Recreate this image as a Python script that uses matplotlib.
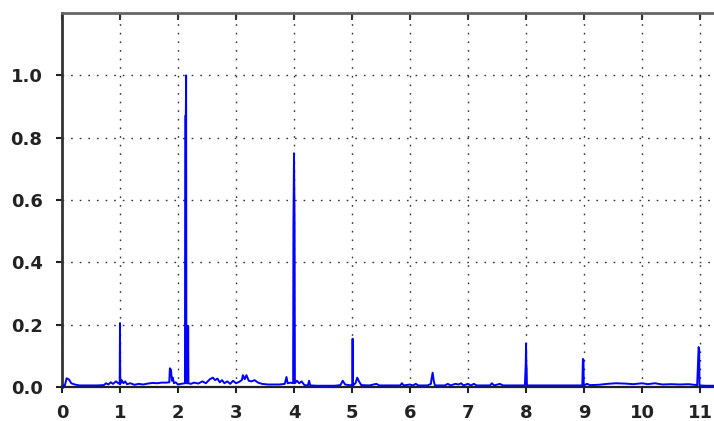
import matplotlib
matplotlib.use("Agg")
import matplotlib.pyplot as plt

# spectrum (normalised amplitude vs. order)
freq = [0.00, 0.05, 0.08, 0.12, 0.16, 0.22, 0.30, 0.45, 0.60, 0.72, 0.76, 0.80,
        0.84, 0.88, 0.93, 0.97, 0.995, 1.00, 1.005, 1.03, 1.06, 1.09, 1.12, 1.18,
        1.25, 1.32, 1.40, 1.48, 1.56, 1.64, 1.72, 1.80, 1.85, 1.86, 1.88, 1.895,
        1.91, 1.93, 1.96, 2.00, 2.05, 2.12, 2.125, 2.135, 2.14, 2.145, 2.17, 2.175,
        2.18, 2.22, 2.28, 2.35, 2.42, 2.48, 2.55, 2.60, 2.64, 2.68, 2.72, 2.76,
        2.80, 2.85, 2.90, 2.95, 3.00, 3.05, 3.10, 3.12, 3.15, 3.18, 3.22, 3.27,
        3.32, 3.38, 3.45, 3.55, 3.65, 3.75, 3.84, 3.87, 3.89, 3.94, 3.985, 3.99,
        4.00, 4.01, 4.015, 4.05, 4.09, 4.13, 4.18, 4.24, 4.26, 4.28, 4.40, 4.55,
        4.70, 4.80, 4.84, 4.88, 4.95, 5.005, 5.01, 5.015, 5.06, 5.09, 5.12, 5.16,
        5.30, 5.42, 5.47, 5.60, 5.83, 5.86, 5.89, 6.00, 6.05, 6.10, 6.14, 6.30,
        6.36, 6.37, 6.39, 6.41, 6.43, 6.60, 6.65, 6.70, 6.78, 6.84, 6.88, 6.92,
        7.00, 7.05, 7.10, 7.15, 7.38, 7.41, 7.45, 7.55, 7.60, 7.98, 7.99, 7.995,
        8.00, 8.005, 8.01, 8.015, 8.50, 8.97, 8.98, 8.99, 8.995, 9.05, 9.10, 9.25,
        9.40, 9.55, 9.70, 9.85, 10.00, 10.10, 10.22, 10.35, 10.50, 10.65, 10.80,
        10.95, 10.975, 10.985, 10.99, 11.10, 11.24]
amp = [0.004, 0.005, 0.028, 0.024, 0.012, 0.008, 0.005, 0.005, 0.005, 0.006, 0.012, 0.008,
       0.015, 0.010, 0.018, 0.012, 0.010, 0.205, 0.010, 0.022, 0.012, 0.018, 0.009, 0.012,
       0.007, 0.010, 0.008, 0.011, 0.013, 0.012, 0.014, 0.014, 0.015, 0.060, 0.055, 0.020,
       0.030, 0.012, 0.015, 0.008, 0.010, 0.012, 0.870, 0.870, 1.000, 0.012, 0.012, 0.196,
       0.012, 0.010, 0.014, 0.011, 0.018, 0.012, 0.025, 0.030, 0.022, 0.027, 0.015, 0.022,
       0.012, 0.018, 0.010, 0.020, 0.012, 0.016, 0.022, 0.038, 0.025, 0.038, 0.020, 0.018,
       0.022, 0.014, 0.010, 0.008, 0.008, 0.008, 0.010, 0.032, 0.012, 0.014, 0.012, 0.520,
       0.750, 0.520, 0.012, 0.020, 0.012, 0.018, 0.006, 0.005, 0.020, 0.005, 0.004, 0.004,
       0.004, 0.006, 0.020, 0.008, 0.006, 0.005, 0.155, 0.005, 0.012, 0.030, 0.018, 0.006,
       0.005, 0.010, 0.005, 0.005, 0.005, 0.012, 0.005, 0.008, 0.005, 0.010, 0.005, 0.005,
       0.010, 0.025, 0.046, 0.018, 0.005, 0.005, 0.010, 0.005, 0.010, 0.008, 0.012, 0.005,
       0.010, 0.005, 0.010, 0.005, 0.005, 0.012, 0.005, 0.010, 0.005, 0.005, 0.060, 0.077,
       0.140, 0.077, 0.060, 0.005, 0.005, 0.005, 0.090, 0.088, 0.005, 0.010, 0.006, 0.007,
       0.010, 0.012, 0.011, 0.009, 0.012, 0.009, 0.012, 0.008, 0.009, 0.008, 0.009,
       0.006, 0.128, 0.120, 0.005, 0.004, 0.004]

xticks = list(range(12))
yticks = [0.0, 0.2, 0.4, 0.6, 0.8, 1.0]
ytick_labels = ["0.0", "0.2", "0.4", "0.6", "0.8", "1.0"]

fig = plt.figure(figsize=(7.14, 4.21), dpi=100)
ax = fig.add_axes([0.0868, 0.0808, 1 - 0.0868, 0.969 - 0.0808])

ax.plot(freq, amp, color="#0000ff", lw=1.4, zorder=3)

ax.set_xlim(0, 11.24)
ax.set_ylim(0, 1.2)
ax.set_xticks(xticks)
ax.set_yticks(yticks)
ax.set_yticklabels(ytick_labels)

grid_style = dict(color="#333333", linestyle=(0, (1.2, 5)), linewidth=1.0)
ax.grid(True, **grid_style)

for lab in ax.get_xticklabels() + ax.get_yticklabels():
    lab.set_fontweight("bold")
    lab.set_fontsize(13)
    lab.set_color("#222222")

ax.tick_params(axis="x", direction="out", length=4, width=1.5, pad=8, colors="#222222")
ax.tick_params(axis="y", direction="out", length=4, width=1.5, pad=10, colors="#222222")

ax.spines["right"].set_visible(False)
ax.spines["left"].set_linewidth(2)
ax.spines["left"].set_color("#333333")
ax.spines["bottom"].set_linewidth(1.6)
ax.spines["bottom"].set_color("#222222")
ax.spines["top"].set_linewidth(2)
ax.spines["top"].set_color("#666666")

# short tick marks hanging under the top frame
top = ax.secondary_xaxis("top")
top.set_xticks(xticks)
top.tick_params(direction="in", length=5, width=1.5, colors="#333333", labeltop=False)
top.spines["top"].set_visible(False)

fig.savefig("out.png", dpi=100)
